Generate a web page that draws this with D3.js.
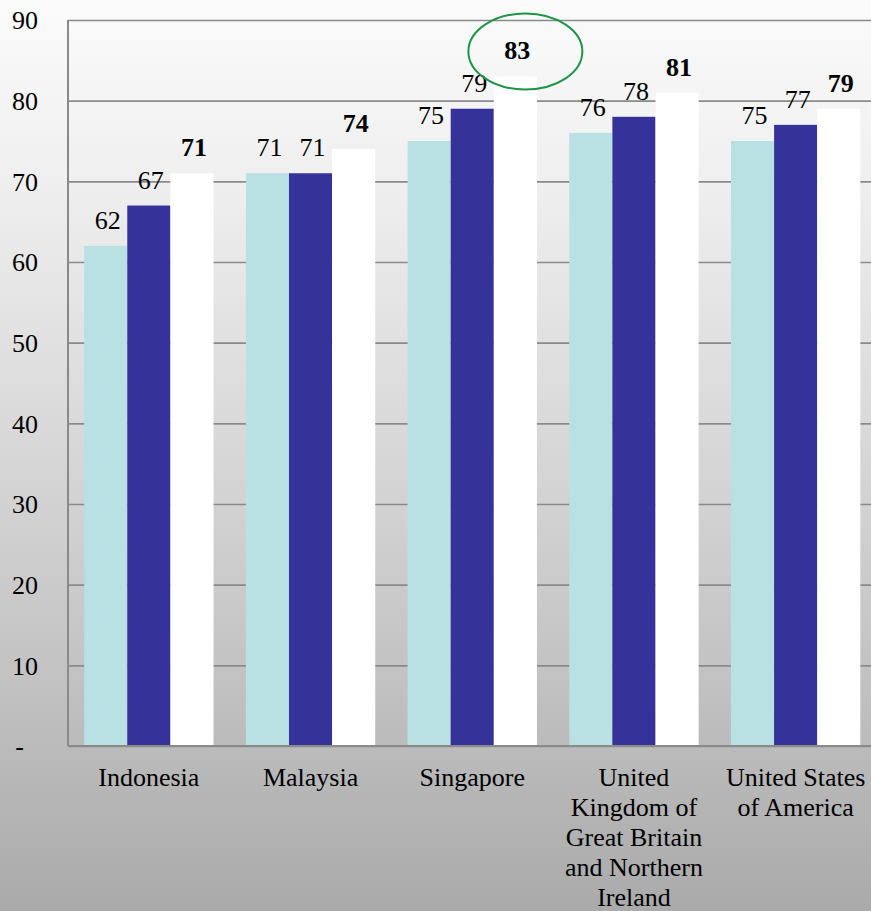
<!DOCTYPE html>
<html>
<head>
<meta charset="utf-8">
<script src="https://cdn.jsdelivr.net/npm/d3@7"></script>
<style>
  html, body { margin: 0; padding: 0; }
  body { width: 871px; height: 911px; overflow: hidden; }
</style>
</head>
<body>
<svg id="chart" width="871" height="911"></svg>
<script>
// Countries along the x axis
const categories = [
  "Indonesia",
  "Malaysia",
  "Singapore",
  "United Kingdom of Great Britain and Northern Ireland",
  "United States of America"
];
// Three series per country
const seriesKeys = ["s1", "s2", "s3"];
const series1 = [62, 71, 75, 76, 75];
const series2 = [67, 71, 79, 78, 77];
const series3 = [71, 74, 83, 81, 79];
const yTicks = [0, 10, 20, 30, 40, 50, 60, 70, 80, 90];
// Country whose latest value is circled
const highlighted = "Singapore";

const seriesValues = [series1, series2, series3];
const seriesColors = ["#b9e0e3", "#353299", "#ffffff"];

const FONT = "'Liberation Serif', Tinos, 'Times New Roman', Times, 'Nimbus Roman', 'Nimbus Roman No9 L', FreeSerif, 'Noto Serif', 'DejaVu Serif', 'Noto Serif CJK SC', serif";

const W = 871, H = 911;
const margin = { left: 68, top: 20, bottom: 165 };
const plotRight = 876.5;

const svg = d3.select("#chart").attr("font-family", FONT);

// Background gradient
const defs = svg.append("defs");
const grad = defs.append("linearGradient")
  .attr("id", "bg").attr("x1", 0).attr("y1", 0).attr("x2", 0).attr("y2", 1);
[[0, "#fbfbfb"], [0.2, "#efefef"], [0.7, "#c6c6c6"], [1, "#aaaaaa"]].forEach(([o, c]) =>
  grad.append("stop").attr("offset", o).attr("stop-color", c));
svg.append("rect").attr("width", W).attr("height", H).attr("fill", "url(#bg)");

const x = d3.scaleBand().domain(categories).range([margin.left, plotRight]).paddingInner(0.2).paddingOuter(0.1);
const xs = d3.scaleBand().domain(seriesKeys).range([0, x.bandwidth()]);
const y = d3.scaleLinear().domain([0, 90]).range([H - margin.bottom, margin.top]);

// Gridlines + y labels
const yAxis = d3.axisLeft(y)
  .tickValues(yTicks)
  .tickSize(-(W - margin.left))
  .tickPadding(30)
  .tickFormat(d => d === 0 ? "-" : d3.format("d")(d));
const yg = svg.append("g").attr("transform", `translate(${margin.left},0)`).call(yAxis)
  .attr("font-family", FONT).attr("font-size", 26);
yg.select(".domain").remove();
yg.selectAll(".tick line").attr("stroke", "#8a8a8a").attr("stroke-width", 1.6);
yg.selectAll(".tick text")
  .attr("fill", "#000")
  .attr("dy", "0.34em")
  .attr("x", d => d === 0 ? -44 : -30);

// Bars
const rows = categories.map((c, i) => ({ c, vals: seriesKeys.map((k, j) => ({ k, j, v: seriesValues[j][i] })) }));
const groups = svg.append("g").selectAll("g").data(rows).join("g")
  .attr("transform", d => `translate(${x(d.c)},0)`);
groups.selectAll("rect").data(d => d.vals).join("rect")
  .attr("x", d => xs(d.k))
  .attr("width", xs.bandwidth())
  .attr("y", d => y(d.v))
  .attr("height", d => y(0) - y(d.v))
  .attr("fill", d => seriesColors[d.j]);

// Value labels
groups.selectAll("text.val").data(d => d.vals).join("text")
  .attr("class", "val")
  .attr("x", d => xs(d.k) + xs.bandwidth() / 2 + 2)
  .attr("y", d => y(d.v) - 17)
  .attr("text-anchor", "middle")
  .attr("font-size", 26)
  .attr("fill", "#000")
  .attr("font-weight", d => d.j === 2 ? "bold" : "normal")
  .text(d => d.v);

// Axis lines
svg.append("line").attr("x1", margin.left).attr("x2", margin.left)
  .attr("y1", y(90)).attr("y2", y(0)).attr("stroke", "#8a8a8a").attr("stroke-width", 2);
svg.append("line").attr("x1", margin.left).attr("x2", W)
  .attr("y1", y(0)).attr("y2", y(0)).attr("stroke", "#8a8a8a").attr("stroke-width", 2);

// Category labels, wrapped to the band width
const xAxis = d3.axisBottom(x).tickSize(0).tickPadding(0);
const xg = svg.append("g").attr("transform", `translate(0,${y(0)})`).call(xAxis)
  .attr("font-family", FONT).attr("font-size", 26);
xg.select(".domain").remove();
xg.selectAll(".tick text")
  .attr("fill", "#000")
  .attr("dy", null)
  .each(function (d) {
    const t = d3.select(this);
    const words = d.split(" ");
    t.text(null);
    const lines = [];
    let line = [];
    const probe = t.append("tspan");
    words.forEach(w => {
      line.push(w);
      probe.text(line.join(" "));
      if (probe.node().getComputedTextLength() > 150 && line.length > 1) {
        line.pop();
        lines.push(line.join(" "));
        line = [w];
      }
    });
    lines.push(line.join(" "));
    probe.remove();
    lines.forEach((l, i) => {
      t.append("tspan").attr("x", 0).attr("y", 40 + i * 30).text(l);
    });
  });

// Highlight ellipse around the top value
const hv = series3[categories.indexOf(highlighted)];
const hx = x(highlighted) + xs("s3") + xs.bandwidth() / 2;
svg.append("ellipse")
  .attr("cx", hx + 10)
  .attr("cy", y(hv) - 25)
  .attr("rx", 57)
  .attr("ry", 38)
  .attr("fill", "none")
  .attr("stroke", "#1e9447")
  .attr("stroke-width", 2);
</script>
</body>
</html>
